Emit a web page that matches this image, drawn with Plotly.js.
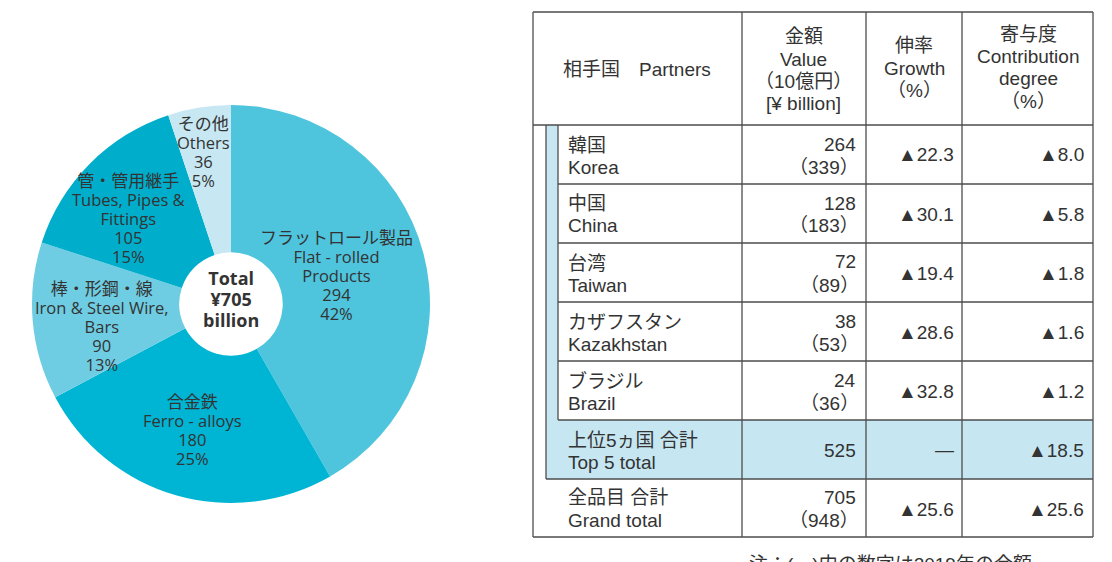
<!DOCTYPE html>
<html><head><meta charset="utf-8">
<script src="https://cdn.plot.ly/plotly-3.0.1.min.js"></script>
<style>html,body{margin:0;padding:0;background:#fff}#chart{width:1112px;height:562px}</style>
</head><body><div id="chart"></div>
<script>
// ---- Pie data ----
const productsJa = ["フラットロール製品", "合金鉄", "棒・形鋼・線", "管・管用継手", "その他"];
const productsEn = [["Flat - rolled", "Products"], ["Ferro - alloys"], ["Iron & Steel Wire,", "Bars"], ["Tubes, Pipes &", "Fittings"], ["Others"]];
const productValues = [294, 180, 90, 105, 36];
const productShares = [42, 25, 13, 15, 5];
const sliceColors = ["#4ec5dd", "#00b5d3", "#6ecde2", "#00aecb", "#c7e8f2"];

// ---- Table data ----
const partnersJa = ["韓国", "中国", "台湾", "カザフスタン", "ブラジル"];
const partnersEn = ["Korea", "China", "Taiwan", "Kazakhstan", "Brazil"];
const value2020 = [264, 128, 72, 38, 24];
const value2019 = [339, 183, 89, 53, 36];
const growth = [-22.3, -30.1, -19.4, -28.6, -32.8];
const contribution = [-8.0, -5.8, -1.8, -1.6, -1.2];
const top5Label = ["上位5ヵ国 合計", "Top 5 total"];
const top5Value = 525;
const top5Contribution = -18.5;
const grandLabel = ["全品目 合計", "Grand total"];
const grandValue = 705;
const grandValuePrev = 948;
const grandGrowth = -25.6;
const grandContribution = -25.6;
const headerLines = [["相手国　Partners"], ["金額", "Value", "（10億円）", "[¥ billion]"], ["伸率", "Growth", "（%）"], ["寄与度", "Contribution", "degree", "（%）"]];
const footnote = "注：(　)内の数字は2019年の金額";

const W = 1112, H = 562;
const X = v => v / W, Y = v => 1 - v / H;
const jpFont = "Noto Sans CJK JP, sans-serif";
const latFont = "Open Sans, Noto Sans, sans-serif";
const tabFont = "Liberation Sans, Arial, Noto Sans CJK JP, sans-serif";
const txt = "#333333";
const fmt = v => (v < 0 ? "▲" : "") + Math.abs(v).toFixed(1);

const annotations = [];
function ann(x, y, text, opt) {
  annotations.push(Object.assign({xref: "paper", yref: "paper", x: X(x), y: Y(y), text: text,
    showarrow: false, xanchor: "center", yanchor: "middle",
    font: {family: tabFont, size: 19, color: txt}}, opt || {}));
}
// one annotation, several lines, each with own family/size; spacing in px
function multi(x, yFirst, lines, spacing) {
  const text = lines.map(l => `<span style="font-family:${l.f};font-size:${l.s}px">${l.t}</span>`).join("<br>");
  ann(x, yFirst + (lines.length - 1) * spacing / 2, text,
      {font: {family: jpFont, size: spacing / 1.3, color: txt}});
}

// pie labels
const labelPos = [[336, 237], [192, 400], [102, 287], [128, 180], [203, 122]];
productsJa.forEach((ja, i) => {
  const lines = [{t: ja, f: jpFont, s: 17}]
    .concat(productsEn[i].map(t => ({t: t.replace(/&/g, "&amp;"), f: latFont, s: 16.5})))
    .concat([{t: String(productValues[i]), f: latFont, s: 16.5}, {t: productShares[i] + "%", f: latFont, s: 16.5}]);
  multi(labelPos[i][0], labelPos[i][1], lines, 19);
});
const total = productValues.reduce((a, b) => a + b, 0);
multi(231, 278, ["Total", "¥" + total, "billion"].map(t => ({t: "<b>" + t + "</b>", f: latFont, s: 18})), 21);

// table header
const headCx = [637, 804, 914, 1028];
const headY0 = [69, 37, 46, 35];
headerLines.forEach((lines, c) => lines.forEach((l, k) => ann(headCx[c], headY0[c] + k * 22, l)));

// rows
const rowTop = [125, 184, 243, 302, 361];
partnersJa.forEach((ja, i) => {
  const t = rowTop[i];
  ann(566, t + 20, ja, {xanchor: "left"});
  ann(566, t + 42, partnersEn[i], {xanchor: "left"});
  ann(858, t + 19, String(value2020[i]), {xanchor: "right"});
  ann(861, t + 42, "（" + value2019[i] + "）", {xanchor: "right"});
  ann(956, t + 30, fmt(growth[i]), {xanchor: "right"});
  ann(1086, t + 30, fmt(contribution[i]), {xanchor: "right"});
});
// top5
ann(566, 440, top5Label[0], {xanchor: "left"});
ann(566, 462, top5Label[1], {xanchor: "left"});
ann(858, 450, String(top5Value), {xanchor: "right"});
ann(956, 449, "—", {xanchor: "right"});
ann(1086, 450, fmt(top5Contribution), {xanchor: "right"});
// grand
ann(566, 497, grandLabel[0], {xanchor: "left"});
ann(566, 520, grandLabel[1], {xanchor: "left"});
ann(858, 497, String(grandValue), {xanchor: "right"});
ann(861, 520, "（" + grandValuePrev + "）", {xanchor: "right"});
ann(956, 509, fmt(grandGrowth), {xanchor: "right"});
ann(1086, 509, fmt(grandContribution), {xanchor: "right"});
// footnote
ann(890, 552, footnote, {yanchor: "top"});

// table shapes
const lc = "#4d4d4d", lw = 1.3, blue = "#c6e7f2";
const shapes = [];
function line(x0, y0, x1, y1) {
  shapes.push({type: "line", xref: "paper", yref: "paper", x0: X(x0), y0: Y(y0), x1: X(x1), y1: Y(y1), line: {color: lc, width: lw}});
}
function rect(x0, y0, x1, y1, c) {
  shapes.push({type: "rect", xref: "paper", yref: "paper", x0: X(x0), y0: Y(y0), x1: X(x1), y1: Y(y1), fillcolor: c, line: {width: 0}, layer: "below"});
}
rect(546, 125, 558, 420, blue);
rect(546, 420, 1093, 479, blue);
line(533, 12, 1093, 12);
line(533, 537, 1093, 537);
line(533, 12, 533, 537);
line(1093, 12, 1093, 537);
line(533, 125, 1093, 125);
[742, 866, 962].forEach(x => line(x, 12, x, 537));
line(546, 125, 546, 479);
line(558, 125, 558, 420);
[184, 243, 302, 361, 420].forEach(y => line(558, y, 1093, y));
line(546, 479, 1093, 479);

const pie = {
  type: "pie",
  values: productValues,
  labels: productsJa,
  marker: {colors: sliceColors, line: {width: 0}},
  sort: false,
  direction: "clockwise",
  rotation: 0,
  hole: 0.26,
  textinfo: "none",
  hoverinfo: "label+value",
  domain: {x: [X(32), X(430)], y: [Y(503), Y(105)]},
  showlegend: false
};

Plotly.newPlot("chart", [pie], {
  width: W, height: H,
  margin: {l: 0, r: 0, t: 0, b: 0},
  paper_bgcolor: "#ffffff",
  showlegend: false,
  shapes: shapes,
  annotations: annotations
}, {displayModeBar: false, staticPlot: true});
</script></body></html>
